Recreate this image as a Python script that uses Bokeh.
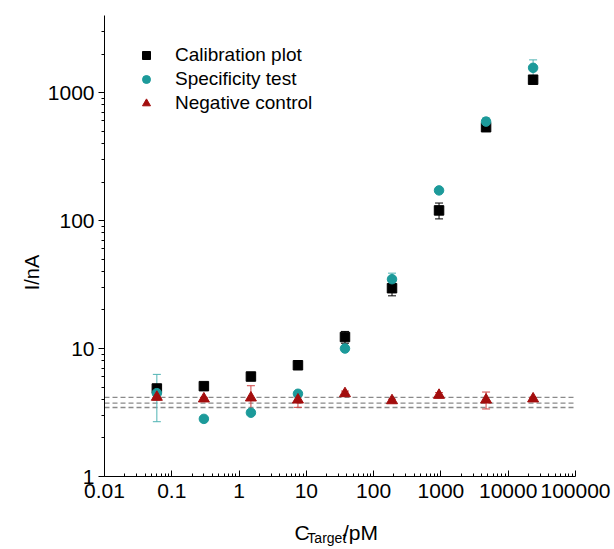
import math
from bokeh.plotting import figure
from bokeh.layouts import row, column
from bokeh.models import (Range1d, FixedTicker, Whisker, TeeHead, ColumnDataSource,
                          Span, Legend, LegendItem)
from bokeh.core.properties import value
from bokeh.embed import file_html
from bokeh.resources import INLINE

# ---- data ----
conc = [0.06, 0.3, 1.5, 7.5, 37.5, 187.5, 937.5, 4687.5, 23437.5]
cal = [4.87, 5.08, 6.04, 7.4, 12.3, 29.6, 120, 536, 1260]
cal_err = [0.2, 0.15, 0.2, 0.3, 1.3, 3.8, 17, 30, 45]
spec = [4.48, 2.82, 3.15, 4.43, 10.0, 34.8, 172, 593, 1560]
spec_err = [1.8, 0.1, 0.1, 0.2, 0.4, 4.0, 6, 40, 240]
neg = [4.17, 4.05, 4.12, 3.97, 4.45, 3.92, 4.32, 3.97, 4.05]
neg_err = [0.2, 0.1, 1.0, 0.5, 0.2, 0.1, 0.2, 0.6, 0.1]
neg_lines = [4.15, 3.74, 3.46]

x_ticks = [0.01, 0.1, 1, 10, 100, 1000, 10000, 100000]
x_tick_labels = ["0.01", "0.1", "1", "10", "100", "1000", "10000", "100000"]
y_ticks = [1, 10, 100, 1000]
y_tick_labels = ["1", "10", "100", "1000"]
series_names = ["Calibration plot", "Specificity test", "Negative control"]
y_title = "I/nA"
x_title_parts = ["C", "Target", "/pM"]

FONT = "Liberation Sans"
TEAL = "#1c9a9a"
DRED = "#a30d0d"

LEFT_W = 44
MAIN_W = 570
MAIN_H = 510
BOT_H = 39

def blank_fig(w, h):
    f = figure(width=w, height=h, x_range=Range1d(0, w), y_range=Range1d(0, h),
               x_axis_location=None, y_axis_location=None, title=None,
               output_backend="svg", toolbar_location=None, min_border=0,
               min_border_left=0, min_border_right=0, min_border_top=0,
               min_border_bottom=0)
    f.xgrid.visible = False
    f.ygrid.visible = False
    f.outline_line_color = None
    return f

p_main = figure(width=MAIN_W, height=MAIN_H, x_axis_type="log", y_axis_type="log",
                x_range=Range1d(0.01, 100000), y_range=Range1d(1, 4000),
                output_backend="svg", toolbar_location=None, title=None,
                min_border_left=58, min_border_right=39, min_border_top=15,
                min_border_bottom=MAIN_H - 15 - 461)
p_main.xgrid.visible = False
p_main.ygrid.visible = False
p_main.outline_line_color = None

x_minor = [m * 10 ** k for k in range(-2, 5) for m in range(2, 10)]
y_minor = [m * 10 ** k for k in range(0, 3) for m in range(2, 10)] + [2000, 3000]
p_main.xaxis.ticker = FixedTicker(ticks=x_ticks, minor_ticks=x_minor)
p_main.yaxis.ticker = FixedTicker(ticks=y_ticks, minor_ticks=y_minor)
p_main.xaxis.major_label_overrides = {t: l for t, l in zip(x_ticks, x_tick_labels)}
p_main.yaxis.major_label_overrides = {t: l for t, l in zip(y_ticks, y_tick_labels)}

for ax in (p_main.xaxis, p_main.yaxis):
    ax.axis_line_color = "black"
    ax.major_tick_line_color = "black"
    ax.minor_tick_line_color = "black"
    ax.major_label_text_font = FONT
    ax.major_label_text_font_size = "21px"
    ax.major_label_text_color = "black"

p_main.xaxis.major_tick_in = 6
p_main.xaxis.major_tick_out = 0
p_main.xaxis.minor_tick_in = 3
p_main.xaxis.minor_tick_out = 0
p_main.xaxis.major_label_standoff = 7

p_main.yaxis.major_tick_in = 0
p_main.yaxis.major_tick_out = 6
p_main.yaxis.minor_tick_in = 0
p_main.yaxis.minor_tick_out = 3
p_main.yaxis.major_label_standoff = 4

# dashed reference lines
for v in neg_lines:
    p_main.add_layout(Span(location=v, dimension="width", line_color="#8a8a8a",
                           line_dash="5 3", line_width=1.3, level="underlay"))

def add_err(y, e, color):
    src = ColumnDataSource(dict(x=conc, lo=[a - b for a, b in zip(y, e)],
                                hi=[a + b for a, b in zip(y, e)]))
    w = Whisker(base="x", lower="lo", upper="hi", source=src, dimension="height",
                line_color=color, line_width=1,
                upper_head=TeeHead(size=8, line_color=color, line_width=1),
                lower_head=TeeHead(size=8, line_color=color, line_width=1),
                level="underlay")
    p_main.add_layout(w)

add_err(cal, cal_err, "black")
add_err(spec, spec_err, "#4fb3b3")
add_err(neg, neg_err, "#d04545")

r1 = p_main.scatter(conc, cal, marker="square", size=9.5, color="black")
r2 = p_main.scatter(conc, spec, marker="circle", size=9.5, color=TEAL)
r3 = p_main.scatter(conc, neg, marker="triangle", size=11, color=DRED)

legend = Legend(items=[LegendItem(label=series_names[0], renderers=[r1]),
                       LegendItem(label=series_names[1], renderers=[r2]),
                       LegendItem(label=series_names[2], renderers=[r3])],
                location=(32, 362), orientation="vertical",
                border_line_color=None, background_fill_alpha=0,
                padding=0, margin=0, spacing=2,
                glyph_width=20, glyph_height=20, label_height=20,
                label_standoff=19, label_text_font=FONT,
                label_text_font_size="19px", label_text_color="black")
p_main.add_layout(legend)

# y-axis title panel
p_left = blank_fig(LEFT_W, MAIN_H + BOT_H)
p_left.text(x=[31], y=[MAIN_H + BOT_H - 272], text=[y_title], angle=math.pi / 2,
            text_align="center", text_baseline="middle", text_font=value(FONT),
            text_font_size="20px", text_color="black")

# x-axis title panel (with subscript)
p_bot = blank_fig(MAIN_W, BOT_H)
p_bot.text(x=[230], y=[17], text=[x_title_parts[0]], text_align="left",
           text_baseline="alphabetic", text_font=value(FONT), text_font_size="21px",
           text_color="black")
p_bot.text(x=[245.5], y=[12], text=[x_title_parts[1]], text_align="left",
           text_baseline="alphabetic", text_font=value(FONT), text_font_size="14px",
           text_color="black")
p_bot.text(x=[288.5], y=[17], text=[x_title_parts[2]], text_align="left",
           text_baseline="alphabetic", text_font=value(FONT), text_font_size="21px",
           text_color="black")

p = row(p_left, column(p_main, p_bot, spacing=0), spacing=0)

open("out.html", "w").write(file_html(p, INLINE))
